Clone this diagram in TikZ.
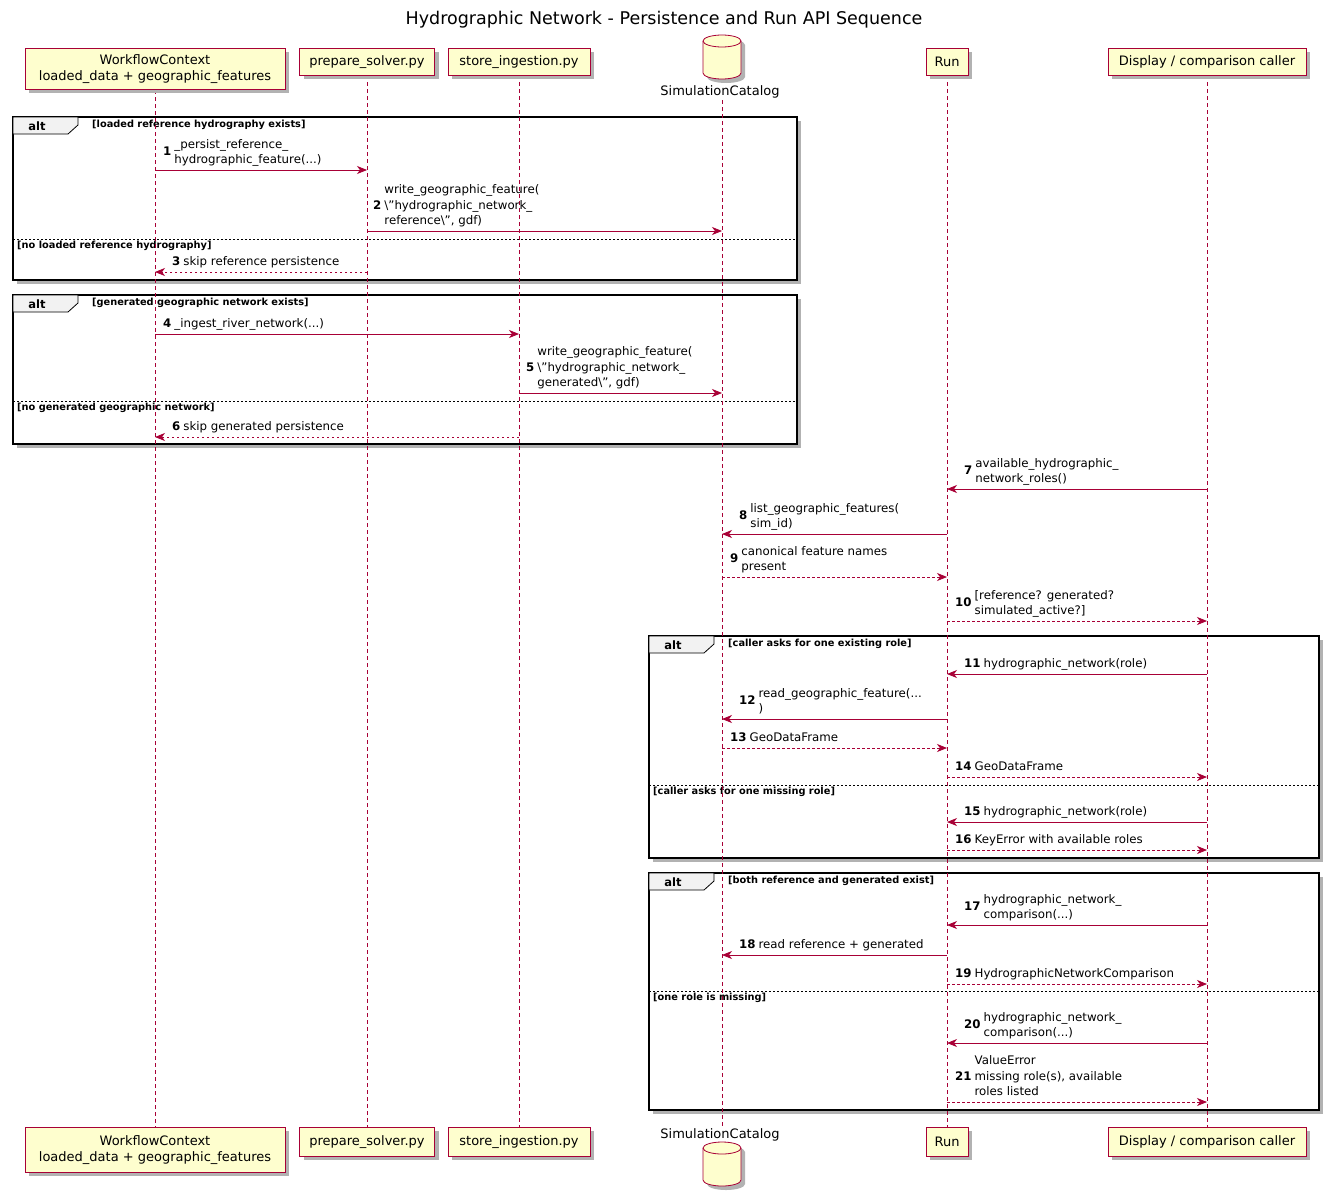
\documentclass[tikz,border=0pt]{standalone}
\usepackage{fontspec}
\setmainfont{DejaVu Sans}
\usetikzlibrary{arrows.meta}
\definecolor{pred}{HTML}{A80036}
\definecolor{pfill}{HTML}{FEFECE}
\tikzset{
 part/.style={draw=pred,fill=pfill,line width=0.8pt,inner sep=0pt,align=center,font=\fontsize{13}{15.5}\selectfont},
 life/.style={dash pattern=on 4pt off 3pt,draw=pred,line width=0.8pt},
 msg/.style={draw=pred,line width=0.8pt,-{Stealth[length=10pt,width=8pt,inset=3pt]}},
 rmsg/.style={msg,dash pattern=on 2.5pt off 2.5pt},
 lbl/.style={anchor=south west,inner sep=0pt,font=\fontsize{11.8}{15.5}\selectfont},
 frm/.style={draw=black,line width=1.5pt},
 grd/.style={font=\bfseries\fontsize{9.8}{11}\selectfont,inner sep=0pt,anchor=west},
}
\newcommand\mymsg[7]{%
 \draw[#4] (#2 |- 0,#1) -- (#3 |- 0,#1);
 \node[lbl] at (#7,#1-1.5) {\textbf{#5}\hspace{3pt}\begin{tabular}[c]{@{}l@{}}#6\end{tabular}};}
\newcommand\myframe[7]{% x1 y1 x2 y2 guard sepy sepguard
 \fill[black!30] (#1+4,#2+4) rectangle (#3+4,#4+4);
 \fill[white] (#1,#2) rectangle (#3,#4);
 \draw[frm] (#1,#2) rectangle (#3,#4);
 \draw[line width=0.8pt,fill=gray!10] (#1,#2) -- (#1+65,#2) -- (#1+65,#2+8) -- (#1+55,#2+17) -- (#1,#2+17) -- cycle;
 \node[font=\bfseries\fontsize{11.5}{13}\selectfont,inner sep=0pt] at (#1+24,#2+9) {alt};
 \node[grd] at (#1+79,#2+8) {#5};
 \draw[dash pattern=on 2pt off 2pt,line width=0.7pt] (#1,#6) -- (#3,#6);
 \node[grd] at (#1+4,#6+7) {#7};}
\newcommand\mybox[5]{% text x y w h
 \fill[black!30] (#2-#4/2+4,#3+4) rectangle (#2+#4/2+4,#3+#5+4);
 \node[part,minimum width=#4,minimum height=#5,anchor=north] at (#2,#3) {#1};}
\newcommand\cylpath[2]{(#1-19,#2+5) -- (#1-19,#2+37) arc[start angle=180,end angle=0,x radius=19,y radius=6] -- (#1+19,#2+5) arc[start angle=0,end angle=-180,x radius=19,y radius=6] -- cycle}
\newcommand\mycyl[2]{% x ytop
 \fill[black!30] \cylpath{#1+4}{#2+4};
 \draw[pred,fill=pfill,line width=0.8pt] \cylpath{#1}{#2};
 \draw[pred,line width=0.8pt] (#1-19,#2+5) arc[start angle=180,end angle=0,x radius=19,y radius=6];}
\begin{document}
\begin{tikzpicture}[x=1pt,y=-1pt]
\useasboundingbox (0,0) rectangle (1329,1199);
\fill[white] (0,0) rectangle (1329,1199);
\coordinate (wc) at (155,0);
\coordinate (ps) at (367,0);
\coordinate (si) at (519,0);
\coordinate (sc) at (722,0);
\coordinate (run) at (947,0);
\coordinate (dc) at (1207,0);
\node[font=\fontsize{17.5}{20}\selectfont] (title) at (664,20) {Hydrographic Network - Persistence and Run API Sequence};
% frames
\myframe{13}{117}{797}{280}{[loaded reference hydrography exists]}{239}{[no loaded reference hydrography]}
\myframe{13}{295}{797}{444}{[generated geographic network exists]}{401}{[no generated geographic network]}
\myframe{649}{636}{1319}{858}{[caller asks for one existing role]}{785}{[caller asks for one missing role]}
\myframe{649}{873}{1319}{1110}{[both reference and generated exist]}{991}{[one role is missing]}
% lifelines
\draw[life] (wc|-0,90) -- (wc|-0,1127);
\draw[life] (ps|-0,75) -- (ps|-0,1127);
\draw[life] (si|-0,75) -- (si|-0,1127);
\draw[life] (sc|-0,100) -- (sc|-0,1127);
\draw[life] (run|-0,75) -- (run|-0,1127);
\draw[life] (dc|-0,75) -- (dc|-0,1127);
% participants
\mybox{WorkflowContext\\loaded\_data + geographic\_features}{155}{48}{260}{41}
\mybox{prepare\_solver.py}{367}{48}{135}{27}
\mybox{store\_ingestion.py}{519}{48}{142}{27}
\mycyl{722}{36}
\node[font=\fontsize{13}{15}\selectfont] (sct) at (720,92) {SimulationCatalog};
\mybox{Run}{947}{48}{42}{27}
\mybox{Display / comparison caller}{1207}{48}{198}{27}
\mybox{WorkflowContext\\loaded\_data + geographic\_features}{155}{1127}{260}{45}
\mybox{prepare\_solver.py}{367}{1127}{135}{29}
\mybox{store\_ingestion.py}{519}{1127}{142}{29}
\node[font=\fontsize{13}{15}\selectfont] (scb) at (720,1135) {SimulationCatalog};
\mycyl{722}{1143}
\mybox{Run}{947}{1127}{42}{29}
\mybox{Display / comparison caller}{1207}{1127}{198}{29}
% messages
\mymsg{170}{wc}{ps}{msg}{1}{\_persist\_reference\_\\hydrographic\_feature(...)}{163}
\mymsg{231}{ps}{sc}{msg}{2}{write\_geographic\_feature(\\\textbackslash"hydrographic\_network\_\\reference\textbackslash", gdf)}{373}
\mymsg{272}{ps}{wc}{rmsg}{3}{skip reference persistence}{172}
\mymsg{334}{wc}{si}{msg}{4}{\_ingest\_river\_network(...)}{163}
\mymsg{393}{si}{sc}{msg}{5}{write\_geographic\_feature(\\\textbackslash"hydrographic\_network\_\\generated\textbackslash", gdf)}{526}
\mymsg{437}{si}{wc}{rmsg}{6}{skip generated persistence}{172}
\mymsg{489}{dc}{run}{msg}{7}{available\_hydrographic\_\\network\_roles()}{964}
\mymsg{534}{run}{sc}{msg}{8}{list\_geographic\_features(\\sim\_id)}{739}
\mymsg{577}{sc}{run}{rmsg}{9}{canonical feature names\\present}{730}
\mymsg{621}{run}{dc}{rmsg}{10}{[reference? generated?\\simulated\_active?]}{955}
\mymsg{674}{dc}{run}{msg}{11}{hydrographic\_network(role)}{964}
\mymsg{719}{run}{sc}{msg}{12}{read\_geographic\_feature(...\\)}{739}
\mymsg{748}{sc}{run}{rmsg}{13}{GeoDataFrame}{730}
\mymsg{777}{run}{dc}{rmsg}{14}{GeoDataFrame}{955}
\mymsg{822}{dc}{run}{msg}{15}{hydrographic\_network(role)}{964}
\mymsg{850}{run}{dc}{rmsg}{16}{KeyError with available roles}{955}
\mymsg{925}{dc}{run}{msg}{17}{hydrographic\_network\_\\comparison(...)}{964}
\mymsg{955}{run}{sc}{msg}{18}{read reference + generated}{739}
\mymsg{984}{run}{dc}{rmsg}{19}{HydrographicNetworkComparison}{955}
\mymsg{1043}{dc}{run}{msg}{20}{hydrographic\_network\_\\comparison(...)}{964}
\mymsg{1102}{run}{dc}{rmsg}{21}{ValueError\\missing role(s), available\\roles listed}{955}
\end{tikzpicture}
\end{document}
